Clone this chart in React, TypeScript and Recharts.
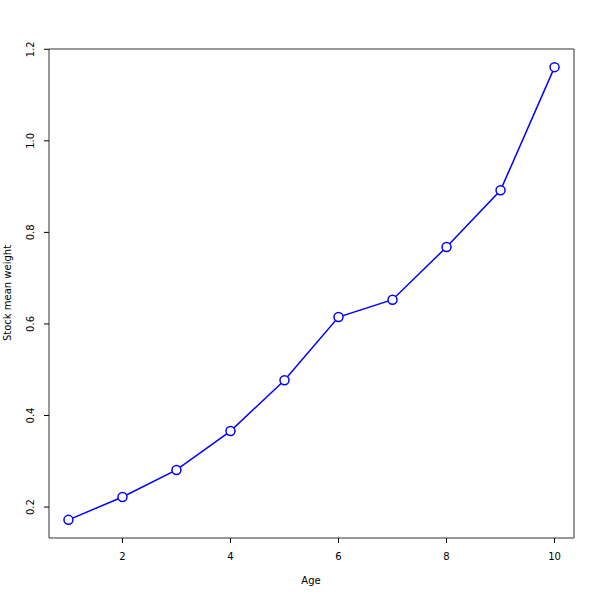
import React from "react";
import {
  LineChart,
  Line,
  XAxis,
  YAxis,
  ReferenceArea,
} from "recharts";

const ages = [1, 2, 3, 4, 5, 6, 7, 8, 9, 10];
const meanWeights = [0.172, 0.222, 0.281, 0.366, 0.477, 0.615, 0.653, 0.768, 0.892, 1.161];
const xTicks = [2, 4, 6, 8, 10];
const yTicks = [0.2, 0.4, 0.6, 0.8, 1.0, 1.2];

const data = ages.map((age, i) => ({ age, weight: meanWeights[i] }));

const X_DOMAIN: [number, number] = [0.64, 10.36];
const Y_DOMAIN: [number, number] = [0.1324, 1.2006];

const font = "'DejaVu Sans', sans-serif";

const YTick = (props: any) => {
  const { x, y, payload } = props;
  return (
    <g>
      <line x1={x + 1} x2={x + 6} y1={y} y2={y} stroke="#000" />
      <text
        x={x - 9}
        y={y}
        transform={`rotate(-90, ${x - 9}, ${y})`}
        textAnchor="middle"
        fontSize={10}
        fontFamily={font}
        fill="#000"
      >
        {Number(payload.value).toFixed(1)}
      </text>
    </g>
  );
};

const XTick = (props: any) => {
  const { x, y, payload } = props;
  return (
    <g>
      <line x1={x} x2={x} y1={y - 1} y2={y - 6} stroke="#000" />
      <text
        x={x}
        y={y + 16}
        textAnchor="middle"
        fontSize={10}
        fontFamily={font}
        fill="#000"
      >
        {payload.value}
      </text>
    </g>
  );
};

export default function App() {
  return (
    <div style={{ position: "absolute", left: 0, top: 0, width: 600, height: 600, background: "#fff" }}>
      <LineChart
        width={600}
        height={600}
        data={data}
        margin={{ top: 49, right: 26, left: 0, bottom: 0 }}
      >
        <XAxis
          dataKey="age"
          type="number"
          domain={X_DOMAIN}
          ticks={xTicks}
          allowDataOverflow
          height={62}
          axisLine={false}
          tickLine={false}
          tick={<XTick />}
          tickMargin={0}
        />
        <YAxis
          type="number"
          domain={Y_DOMAIN}
          ticks={yTicks}
          allowDataOverflow
          width={49}
          axisLine={false}
          tickLine={false}
          tick={<YTick />}
          tickMargin={0}
        />
        <ReferenceArea
          x1={X_DOMAIN[0]}
          x2={X_DOMAIN[1]}
          y1={Y_DOMAIN[0]}
          y2={Y_DOMAIN[1]}
          fill="none"
          stroke="#333"
          strokeWidth={1}
          ifOverflow="visible"
        />
        <Line
          type="linear"
          dataKey="weight"
          stroke="#0000ff"
          strokeWidth={1.5}
          dot={{ r: 4.5, fill: "#fff", stroke: "#0000ff", strokeWidth: 1.5 }}
          activeDot={false}
          isAnimationActive={false}
        />
        <text x={311} y={584} textAnchor="middle" fontSize={10} fontFamily={font} fill="#000">
          Age
        </text>
        <text
          x={11}
          y={293}
          transform="rotate(-90, 11, 293)"
          textAnchor="middle"
          fontSize={10}
          fontFamily={font}
          fill="#000"
        >
          Stock mean weight
        </text>
      </LineChart>
    </div>
  );
}
